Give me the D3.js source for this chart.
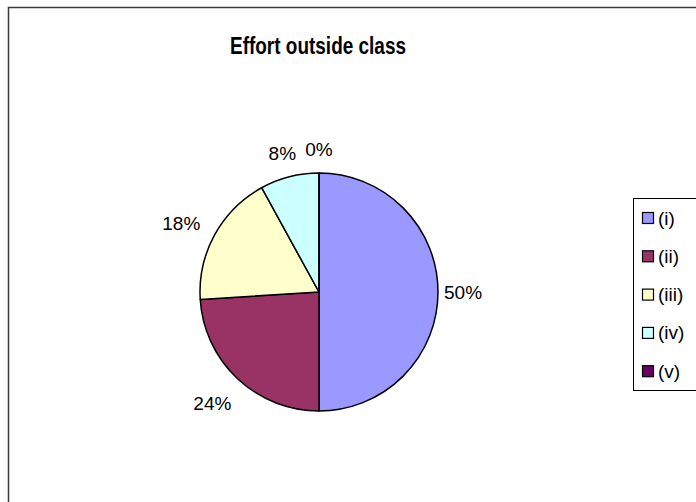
<!DOCTYPE html>
<html>
<head>
<meta charset="utf-8">
<script src="https://cdn.jsdelivr.net/npm/d3@7"></script>
<style>
  html, body { margin: 0; padding: 0; background: #fff; }
  svg { display: block; }
  text { font-family: Arial, "Liberation Sans", sans-serif; fill: #000; }
</style>
</head>
<body>
<svg id="chart" width="696" height="502"></svg>
<script>
const title = "Effort outside class";
const categories = ["(i)", "(ii)", "(iii)", "(iv)", "(v)"];
const values = [50, 24, 18, 8, 0];
const colors = ["#9999FF", "#993366", "#FFFFCC", "#CCFFFF", "#660066"];

const W = 696, H = 502;
const svg = d3.select("#chart");

// chart area frame
svg.append("path")
  .attr("d", `M8.5,${H + 2} V7.5 H${W + 2}`)
  .attr("fill", "none").attr("stroke", "#3a3a3a").attr("stroke-width", 1.5);

svg.append("text")
  .attr("x", 318).attr("y", 54)
  .attr("text-anchor", "middle")
  .attr("textLength", 176).attr("lengthAdjust", "spacingAndGlyphs")
  .style("font-size", "24px").style("font-weight", "bold")
  .text(title);

const cx = 319, cy = 292, r = 119;
const total = d3.sum(values);
const pie = d3.pie().sort(null).value(d => d)(values);
const arc = d3.arc().innerRadius(0).outerRadius(r);

const g = svg.append("g").attr("transform", `translate(${cx},${cy})`);
g.selectAll("path.slice").data(pie).enter().append("path")
  .attr("class", "slice")
  .attr("d", arc)
  .attr("fill", (d, i) => colors[i])
  .attr("stroke", "#000").attr("stroke-width", 1.5)
  .attr("stroke-linejoin", "round");

// labels (outside end, Excel-like)
const fmt = d3.format(".0%");
const lbl = g.selectAll("text.lbl").data(pie).enter().append("text")
  .attr("class", "lbl")
  .style("font-size", "19px")
  .attr("dominant-baseline", "central")
  .attr("text-anchor", "middle")
  .text(d => fmt(d.value / total));
lbl.each(function(d) {
  const w = this.getComputedTextLength();
  const h = 17;
  const a = (d.startAngle + d.endAngle) / 2;
  const s = Math.sin(a), c = Math.cos(a);
  const offX = 13 - 7 * s;
  const offY = 15 - 14 * Math.min(c, 0);
  const px = (r + offX) * s, py = -(r + offY) * c;
  d3.select(this).attr("x", px + s * w / 2).attr("y", py - c * h / 2);
});

// legend
const lx = 633, ly = 198, lh = 192, step = 38.3, firstY = 218;
svg.append("rect")
  .attr("x", lx + 0.5).attr("y", ly + 0.5)
  .attr("width", W - lx + 10).attr("height", lh)
  .attr("fill", "#fff").attr("stroke", "#000").attr("stroke-width", 1);
const items = svg.selectAll("g.leg").data(categories).enter().append("g")
  .attr("class", "leg")
  .attr("transform", (d, i) => `translate(${lx + 9},${firstY + i * step})`);
items.append("rect")
  .attr("x", 0.5).attr("y", -5.5).attr("width", 11).attr("height", 11)
  .attr("fill", (d, i) => colors[i])
  .attr("stroke", "#000").attr("stroke-width", 1.2);
items.append("text")
  .attr("x", 16).attr("y", 0)
  .attr("dominant-baseline", "central")
  .style("font-size", "19px")
  .text(d => d);
</script>
</body>
</html>
